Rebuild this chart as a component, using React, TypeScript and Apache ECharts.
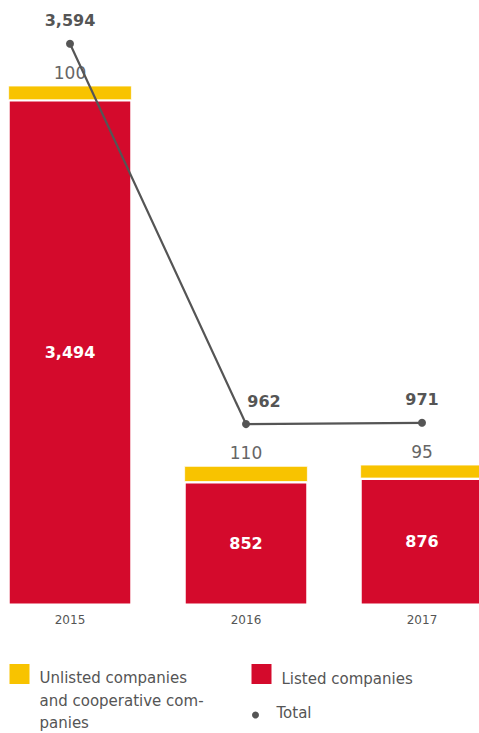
import React, { useEffect, useRef } from "react";
import * as echarts from "echarts";

const years = ["2015", "2016", "2017"];
const listedCompanies = [3494, 852, 876];
const unlistedCompanies = [100, 110, 95];
const totals = [3594, 962, 971];

const RED = "#D40A2C";
const YELLOW = "#F8C300";
const GRAY = "#555555";
const FONT = "DejaVu Sans";
const SHIFT = 18.5; // chart div starts this far left of the page

const fmt = (v: number) => v.toLocaleString("en-US");

export default function App() {
  const ref = useRef<HTMLDivElement>(null);
  useEffect(() => {
    if (!ref.current) return;
    const chart = echarts.init(ref.current, null, { renderer: "svg" });
    chart.setOption({
      animation: false,
      textStyle: { fontFamily: FONT },
      grid: { left: 0, right: 0, top: 27, bottom: 128 },
      xAxis: {
        type: "category",
        data: years,
        axisLine: { show: false },
        axisTick: { show: false },
        axisLabel: { color: GRAY, fontSize: 12, margin: 9, fontFamily: FONT },
      },
      yAxis: [
        { type: "value", min: 0, max: 4000, show: false },
        { type: "value", min: -290, max: 3710, show: false },
      ],
      series: [
        {
          name: "Listed companies",
          type: "bar",
          stack: "a",
          barWidth: 123.5,
          data: listedCompanies,
          itemStyle: { color: RED, borderColor: "#fff", borderWidth: 1.5 },
          label: {
            show: true,
            position: "inside",
            color: "#fff",
            fontWeight: "bold",
            fontSize: 16,
            fontFamily: FONT,
            formatter: (p: any) => fmt(p.value),
          },
        },
        {
          name: "Unlisted companies and cooperative companies",
          type: "bar",
          stack: "a",
          barWidth: 123.5,
          data: unlistedCompanies,
          itemStyle: { color: YELLOW, borderColor: "#fff", borderWidth: 0.75 },
          label: {
            show: true,
            position: "top",
            distance: 4,
            color: "#666",
            fontSize: 17,
            fontFamily: FONT,
            formatter: (p: any) => fmt(p.value),
          },
        },
        {
          name: "Total",
          type: "line",
          yAxisIndex: 1,
          data: totals.map((v, i) =>
            i === 1 ? { value: v, label: { offset: [18, 0] } } : v
          ),
          symbol: "circle",
          symbolSize: 8,
          lineStyle: { color: GRAY, width: 2.2 },
          itemStyle: { color: GRAY },
          label: {
            show: true,
            position: "top",
            distance: 11,
            color: GRAY,
            fontWeight: "bold",
            fontSize: 16,
            fontFamily: FONT,
            formatter: (p: any) => fmt(p.value),
          },
          z: 5,
        },
      ],
      graphic: [
        { type: "rect", shape: { x: 9 + SHIFT, y: 664, width: 20, height: 20 }, style: { fill: YELLOW } },
        {
          type: "text",
          x: 39 + SHIFT,
          y: 667,
          style: {
            text: "Unlisted companies\nand cooperative com-\npanies",
            fill: GRAY,
            fontSize: 15,
            lineHeight: 22.5,
            fontFamily: FONT,
          },
        },
        { type: "rect", shape: { x: 251 + SHIFT, y: 664, width: 20, height: 20 }, style: { fill: RED } },
        {
          type: "text",
          x: 281 + SHIFT,
          y: 667,
          style: { text: "Listed companies", fill: GRAY, fontSize: 15, lineHeight: 23, fontFamily: FONT },
        },
        { type: "circle", shape: { cx: 255 + SHIFT, cy: 715, r: 3.5 }, style: { fill: GRAY } },
        {
          type: "text",
          x: 276 + SHIFT,
          y: 701,
          style: { text: "Total", fill: GRAY, fontSize: 15, lineHeight: 23, fontFamily: FONT },
        },
      ],
    });
    return () => chart.dispose();
  }, []);
  return (
    <div
      ref={ref}
      style={{ position: "fixed", left: -SHIFT, top: 0, width: 528, height: 733, background: "#fff" }}
    />
  );
}
